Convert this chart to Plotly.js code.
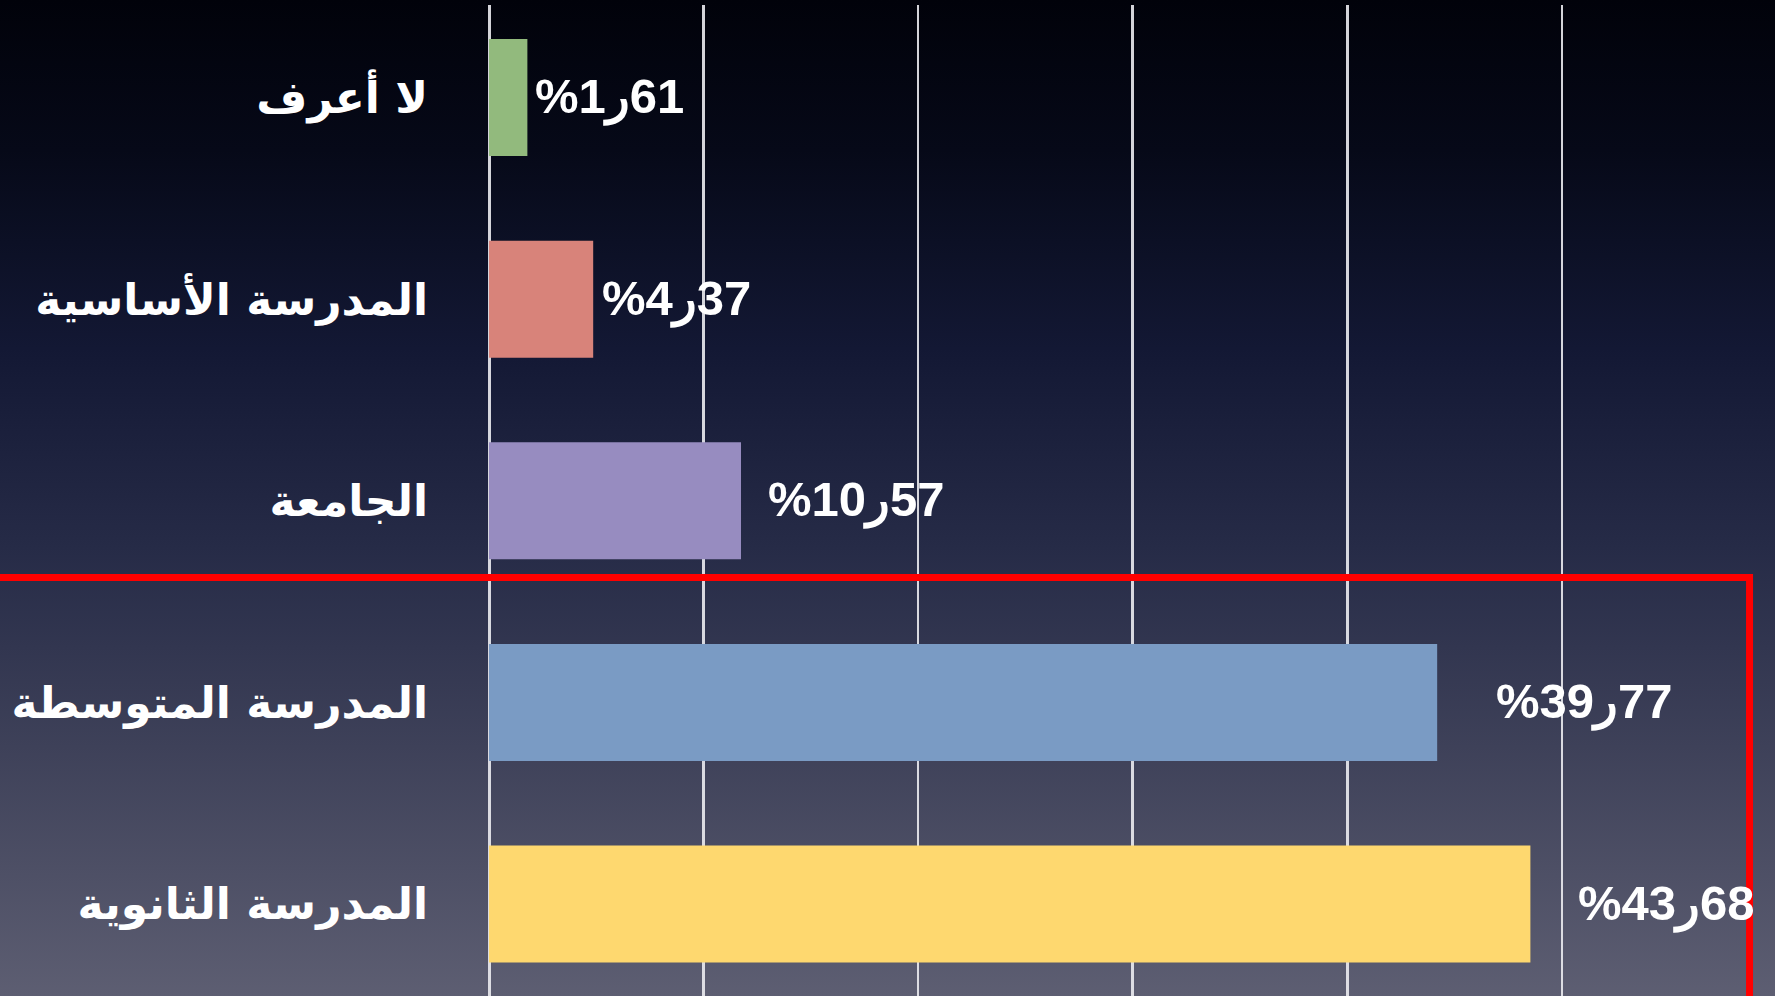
<!DOCTYPE html>
<html>
<head>
<meta charset="utf-8">
<script src="https://cdn.plot.ly/plotly-3.0.1.min.js"></script>
<style>
  html, body { margin:0; padding:0; width:1775px; height:996px; overflow:hidden;
    background: linear-gradient(to bottom, #01020a 0%, #060918 15%, #131834 35%, #262b47 55%, #3e4159 75%, #5d5e72 100%); }
  #chart { width:1775px; height:996px; }
</style>
</head>
<body>
<div id="chart"></div>
<script>
// Data
const categories = ["لا أعرف", "المدرسة الأساسية", "الجامعة", "المدرسة المتوسطة", "المدرسة الثانوية"];
const values = [1.61, 4.37, 10.57, 39.77, 43.68];
const valueLabels = ["%1ر61", "%4ر37", "%10ر57", "%39ر77", "%43ر68"];

// Styles
const barColors = ["#92ba7d", "#d8837a", "#978cc0", "#7a9bc4", "#fed86f"];
const labelShift = [6, 7, 25, 57, 46];

const LRO = "\u202D", PDF = "\u202C";

const trace = {
  type: "bar",
  orientation: "h",
  x: values,
  y: categories,
  marker: { color: barColors, line: { width: 0 } },
  width: 0.58,
  hoverinfo: "none"
};

const annotations = values.map((v, i) => ({
  x: v, y: categories[i], xref: "x", yref: "y",
  text: LRO + valueLabels[i] + PDF,
  showarrow: false, xanchor: "left", yanchor: "middle",
  xshift: labelShift[i],
  font: { family: "Liberation Sans, Arial, sans-serif", size: 49, color: "#ffffff", weight: "bold" }
}));

const layout = {
  width: 1775, height: 996,
  margin: { l: 489, r: 0, t: 5, b: 0, pad: 0 },
  paper_bgcolor: "rgba(0,0,0,0)",
  plot_bgcolor: "rgba(0,0,0,0)",
  showlegend: false,
  bargap: 0.42,
  xaxis: {
    range: [0, 53.94], tick0: 0, dtick: 9,
    showticklabels: false, ticks: "",
    showgrid: true, gridcolor: "rgba(235,235,240,0.9)", gridwidth: 2.5,
    zeroline: true, zerolinecolor: "rgba(235,235,240,0.9)", zerolinewidth: 3,
    showline: false, fixedrange: true
  },
  yaxis: {
    type: "category",
    categoryorder: "array", categoryarray: categories,
    range: [4.456, -0.459],
    showgrid: false, zeroline: false, showline: false, ticks: "",
    ticklabelstandoff: 60,
    tickfont: { family: "DejaVu Sans, sans-serif", size: 44, color: "#ffffff", weight: "bold" },
    fixedrange: true
  },
  annotations: annotations,
  shapes: [{
    type: "rect", xref: "paper", yref: "paper",
    x0: -0.45, x1: 0.9802, y0: -0.1, y1: 0.4223,
    line: { color: "#ff0000", width: 7 }, fillcolor: "rgba(0,0,0,0)", layer: "above"
  }]
};

Plotly.newPlot("chart", [trace], layout, { displayModeBar: false, staticPlot: true });
</script>
</body>
</html>
